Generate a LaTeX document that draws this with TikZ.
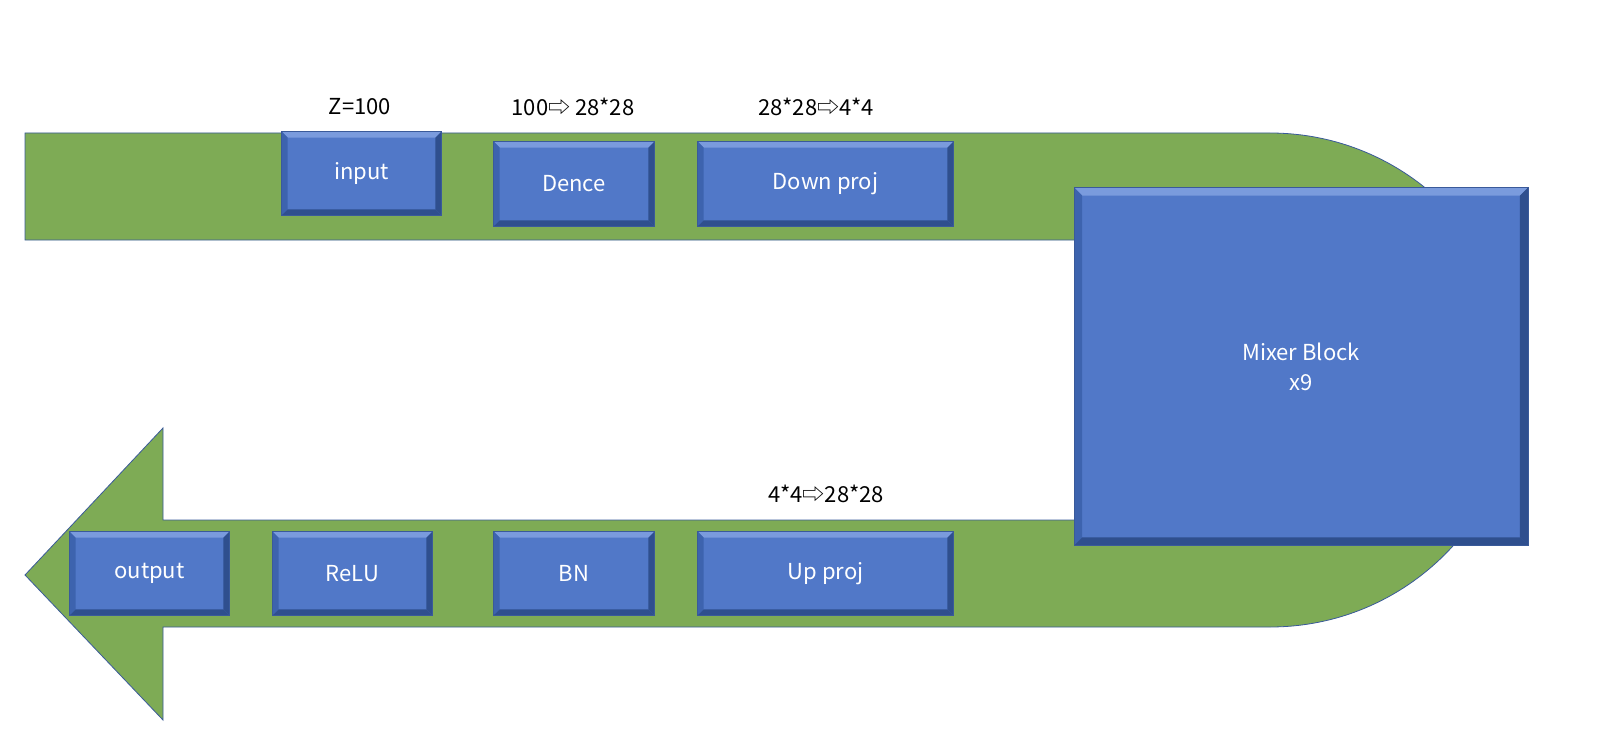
\documentclass[tikz,border=0pt]{standalone}
\usepackage{fontspec}
\setmainfont{Noto Sans CJK JP}
\usetikzlibrary{calc}
\definecolor{gr}{HTML}{7EAB55}
\definecolor{ln}{HTML}{3A5A9A}
\definecolor{bx}{HTML}{5178C8}
\definecolor{bl}{HTML}{7A9BDD}
\definecolor{bd}{HTML}{2F4F8E}
\definecolor{bm}{HTML}{3D63AE}
\tikzset{
 box/.style={draw=ln,line width=0.6pt,fill=bx,text=white,inner sep=0pt},
 lab/.style={text=black,font=\fontsize{22}{26}\selectfont,inner sep=0pt}
}
\newcommand{\bev}[2]{%
 \fill[bl] (#1.north west) -- (#1.north east) -- ($(#1.north east)+(-#2,#2)$) -- ($(#1.north west)+(#2,#2)$) -- cycle;
 \fill[bm] (#1.north west) -- ($(#1.north west)+(#2,#2)$) -- ($(#1.south west)+(#2,-#2)$) -- (#1.south west) -- cycle;
 \fill[bd] (#1.north east) -- ($(#1.north east)+(-#2,#2)$) -- ($(#1.south east)+(-#2,-#2)$) -- (#1.south east) -- cycle;
 \fill[bd] (#1.south west) -- ($(#1.south west)+(#2,-#2)$) -- ($(#1.south east)+(-#2,-#2)$) -- (#1.south east) -- cycle;
 \draw[ln,line width=0.6pt] (#1.north west) rectangle (#1.south east);}
\begin{document}
\begin{tikzpicture}[x=1pt,y=-1pt]
\useasboundingbox (0,0) rectangle (1614,754);
% green U arrow
\draw[ln,line width=0.8pt,fill=gr] (25,133) -- (1270,133) arc[start angle=90,end angle=-90,radius=247pt] -- (163,627) -- (163,720) -- (25,575) -- (163,428) -- (163,520) -- (1270,520) arc[start angle=-90,end angle=90,radius=140pt] -- (25,240) -- cycle;
% boxes
\newcommand{\bx}[6]{\node[box,minimum width=#4pt,minimum height=#5pt] (#1) at (#2,#3) {};\bev{#1}{6}\node[text=white,font=\fontsize{22}{26}\selectfont] at (#1) {#6};}
\bx{input}{361.5}{173.5}{159}{83}{input}
\bx{dence}{574}{184}{160}{84}{Dence}
\bx{down}{825.5}{184}{255}{84}{Down proj}
\bx{output}{149.5}{573.5}{159}{83}{output}
\bx{relu}{352.5}{573.5}{159}{83}{ReLU}
\bx{bn}{574}{573.5}{160}{83}{BN}
\bx{up}{825.5}{573.5}{255}{83}{Up proj}
\node[box,minimum width=453pt,minimum height=357pt] (mix) at (1301,366.5) {};
\bev{mix}{8}
\node[text=white,font=\fontsize{22}{30}\selectfont,align=center] at (mix) {Mixer Block\\x9};
% labels
\node[lab] (l1) at (360,107) {Z=100};
\node[lab] (l2) at (573,107) {100⇨ 28*28};
\node[lab] (l3) at (816,107) {28*28⇨4*4};
\node[lab] (l4) at (826,494) {4*4⇨28*28};
\end{tikzpicture}
\end{document}
